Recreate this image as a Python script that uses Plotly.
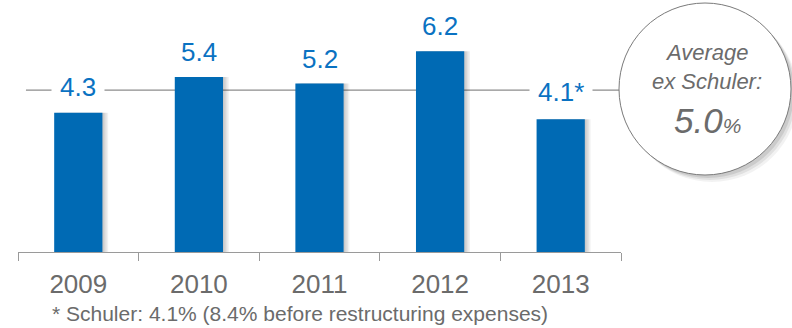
import plotly.graph_objects as go

# Data
years = ["2009", "2010", "2011", "2012", "2013"]
margin_pct = [4.3, 5.4, 5.2, 6.2, 4.1]
value_labels = ["4.3", "5.4", "5.2", "6.2", "4.1*"]
average_ex_schuler = 5.0
footnote = "* Schuler: 4.1% (8.4% before restructuring expenses)"

# Canvas and plot-area geometry (pixels)
W, H = 792, 328
L, R, T, B = 18, 171, 0, 76
PW, PH = W - L - R, H - T - B
Y_MAX = 7.78

FONT = "Liberation Sans, Arial, Helvetica, sans-serif"
BAR_BLUE = "#006AB4"
LABEL_BLUE = "#0A72C2"
GREY_TEXT = "#6B6B6B"
GREY_LINE = "#8C8C8C"


def fx(px):
    """pixel x -> paper x"""
    return (px - L) / PW


def fy(py):
    """pixel y -> paper y"""
    return (H - B - py) / PH


fig = go.Figure()

# soft drop shadow to the right of each bar
for k in range(1, 5):
    fig.add_trace(go.Bar(
        x=years, y=margin_pct, width=0.4, offset=-0.2 + 0.012 * k,
        marker=dict(color="rgba(0,0,0,0.055)", line=dict(width=0)),
        hoverinfo="skip", showlegend=False,
    ))

fig.add_trace(go.Bar(
    x=years, y=margin_pct, width=0.4, offset=-0.2,
    marker=dict(color=BAR_BLUE, line=dict(width=0)),
    showlegend=False,
))

shapes = []
# average reference line (behind the bars)
shapes.append(dict(
    type="line", xref="x", yref="y", layer="below",
    x0=-0.434, x1=4.5, y0=average_ex_schuler, y1=average_ex_schuler,
    line=dict(color=GREY_LINE, width=1.3),
))

# callout circle with a soft shadow
cx, cy, r = 705, 89, 86
for d, a in [(7, 0.05), (5, 0.07), (3, 0.09)]:
    shapes.append(dict(
        type="circle", xref="paper", yref="paper", layer="above",
        x0=fx(cx - r + d), x1=fx(cx + r + d), y0=fy(cy + r + d), y1=fy(cy - r + d),
        fillcolor=f"rgba(0,0,0,{a})", line=dict(width=0),
    ))
shapes.append(dict(
    type="circle", xref="paper", yref="paper", layer="above",
    x0=fx(cx - r), x1=fx(cx + r), y0=fy(cy + r), y1=fy(cy - r),
    fillcolor="white", line=dict(color="#7A7A7A", width=1),
))

annotations = []
# category positions are addressed by index on the category axis
for i, (v, lab) in enumerate(zip(margin_pct, value_labels)):
    if v > average_ex_schuler:
        annotations.append(dict(
            x=i, y=v, xref="x", yref="y", text=lab, showarrow=False,
            yanchor="middle", yshift=25,
            font=dict(family=FONT, size=26, color=LABEL_BLUE),
        ))
    else:
        annotations.append(dict(
            x=i, y=average_ex_schuler, xref="x", yref="y", text=lab,
            showarrow=False, yanchor="middle",
            yshift=3 if i == 0 else -2,
            bgcolor="white", borderpad=8,
            font=dict(family=FONT, size=26, color=LABEL_BLUE),
        ))

# circle text
tx = fx(707)
annotations += [
    dict(x=tx, y=fy(52), xref="paper", yref="paper", text="<i>Average</i>",
         showarrow=False, xanchor="center", yanchor="middle",
         font=dict(family=FONT, size=22, color=GREY_TEXT)),
    dict(x=tx, y=fy(82), xref="paper", yref="paper", text="<i>ex Schuler:</i>",
         showarrow=False, xanchor="center", yanchor="middle",
         font=dict(family=FONT, size=22, color=GREY_TEXT)),
    dict(x=tx, y=fy(121), xref="paper", yref="paper",
         text=f"<i>{average_ex_schuler:.1f}<span style='font-size:21px'>%</span></i>",
         showarrow=False, xanchor="center", yanchor="middle",
         font=dict(family=FONT, size=35, color=GREY_TEXT)),
]

# footnote
annotations.append(dict(
    x=fx(50), y=fy(313), xref="paper", yref="paper", text=footnote,
    showarrow=False, xanchor="left", yanchor="middle",
    font=dict(family=FONT, size=21, color=GREY_TEXT),
))

fig.update_layout(
    width=W, height=H,
    margin=dict(l=L, r=R, t=T, b=B),
    paper_bgcolor="white", plot_bgcolor="white",
    barmode="overlay",
    showlegend=False,
    shapes=shapes,
    annotations=annotations,
    xaxis=dict(
        type="category", range=[-0.5, 4.5],
        showline=True, linecolor="#9A9A9A", linewidth=1,
        ticks="outside", tickson="boundaries", ticklen=8, tickcolor="#9A9A9A",
        ticklabelstandoff=9,
        showgrid=False, zeroline=False,
        tickfont=dict(family=FONT, size=26, color=GREY_TEXT),
    ),
    yaxis=dict(
        range=[0, Y_MAX], visible=False, showgrid=False, zeroline=False,
    ),
)

fig.write_html("out.html")
